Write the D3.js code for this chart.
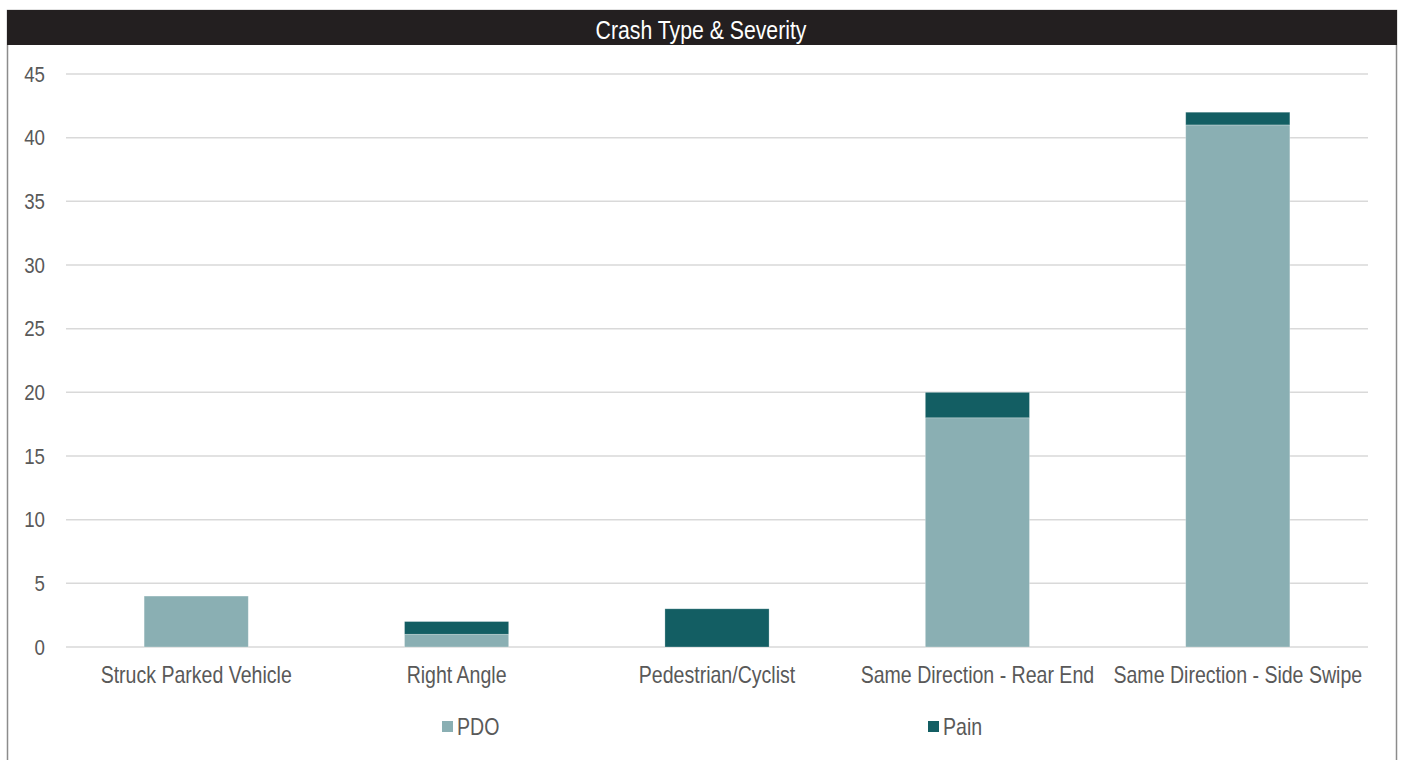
<!DOCTYPE html>
<html>
<head>
<meta charset="utf-8">
<script src="https://cdn.jsdelivr.net/npm/d3@7"></script>
<style>
  html, body { margin: 0; padding: 0; background: #fff; }
  svg { display: block; }
  text { font-family: "Liberation Sans Narrow", "Arial Narrow", "Liberation Sans", Arial, sans-serif; }
</style>
</head>
<body>
<svg id="chart" width="1401" height="760"></svg>
<script>
const title = "Crash Type & Severity";
const categories = ["Struck Parked Vehicle", "Right Angle", "Pedestrian/Cyclist", "Same Direction - Rear End", "Same Direction - Side Swipe"];
const seriesNames = ["PDO", "Pain"];
const pdoValues = [4, 1, 0, 18, 41];
const painValues = [0, 1, 3, 2, 1];
const yTicks = [0, 5, 10, 15, 20, 25, 30, 35, 40, 45];
const colors = ["#8aafb3", "#135e63"];

const svg = d3.select("#chart");
const narrow = "scale(0.85,1)";   // condensed look for all labels

// outer frame
svg.append("rect")
  .attr("x", 7.5).attr("y", 10.5)
  .attr("width", 1389).attr("height", 760)
  .attr("fill", "#fff").attr("stroke", "#8c8c8c").attr("stroke-width", 1.5);

// title band
svg.append("rect")
  .attr("x", 7).attr("y", 10)
  .attr("width", 1390).attr("height", 35)
  .attr("fill", "#231f20");
svg.append("g").attr("transform", "translate(701,39)")
  .append("text")
  .attr("transform", narrow)
  .attr("text-anchor", "middle")
  .attr("fill", "#fff")
  .attr("font-size", 25)
  .text(title);

const plot = { left: 66, right: 1368, top: 74, bottom: 647 };

const x = d3.scaleBand().domain(categories).range([plot.left, plot.right]).padding(0);
const y = d3.scaleLinear().domain([0, 45]).range([plot.bottom, plot.top]);

// gridlines
svg.append("g").selectAll("line").data(yTicks).join("line")
  .attr("x1", plot.left).attr("x2", plot.right)
  .attr("y1", d => y(d)).attr("y2", d => y(d))
  .attr("stroke", "#d9d9d9").attr("stroke-width", 1.5);

// y axis labels
const yAxis = d3.axisLeft(y).tickValues(yTicks).tickSize(0).tickPadding(0);
const gy = svg.append("g").attr("transform", `translate(45,0)`).call(yAxis);
gy.select(".domain").remove();
gy.selectAll("text")
  .attr("fill", "#595959")
  .attr("font-size", 22)
  .attr("transform", narrow)
  .style("font-family", "'Liberation Sans Narrow', 'Arial Narrow', 'Liberation Sans', sans-serif");

// stacked bars
const table = categories.map((c, i) => ({ category: c, PDO: pdoValues[i], Pain: painValues[i] }));
const stack = d3.stack().keys(seriesNames)(table);
const barW = x.bandwidth() * 0.4;

svg.append("g").selectAll("g").data(stack).join("g")
  .attr("fill", (d, i) => colors[i])
  .selectAll("rect").data(d => d.filter(s => s[1] - s[0] > 0)).join("rect")
  .attr("x", d => x(d.data.category) + (x.bandwidth() - barW) / 2)
  .attr("y", d => y(d[1]))
  .attr("width", barW)
  .attr("height", d => y(d[0]) - y(d[1]))
  .attr("stroke", "#ffffff").attr("stroke-opacity", 0.35).attr("stroke-width", 0.75);

// x axis labels
const xAxis = d3.axisBottom(x).tickSize(0).tickPadding(0);
const gx = svg.append("g").attr("transform", `translate(0,667)`).call(xAxis);
gx.select(".domain").remove();
gx.selectAll("text")
  .attr("fill", "#595959")
  .attr("font-size", 23)
  .attr("dy", "0.71em")
  .attr("transform", narrow)
  .style("font-family", "'Liberation Sans Narrow', 'Arial Narrow', 'Liberation Sans', sans-serif");

// legend
const legendPos = [442, 928];
const lg = svg.append("g").selectAll("g").data(seriesNames).join("g")
  .attr("transform", (d, i) => `translate(${legendPos[i]},721)`);
lg.append("rect").attr("width", 11).attr("height", 11).attr("fill", (d, i) => colors[i]);
lg.append("g").attr("transform", "translate(15,6)")
  .append("text").attr("dy", "0.35em").attr("transform", narrow)
  .attr("fill", "#595959").attr("font-size", 23).text(d => d);
</script>
</body>
</html>
